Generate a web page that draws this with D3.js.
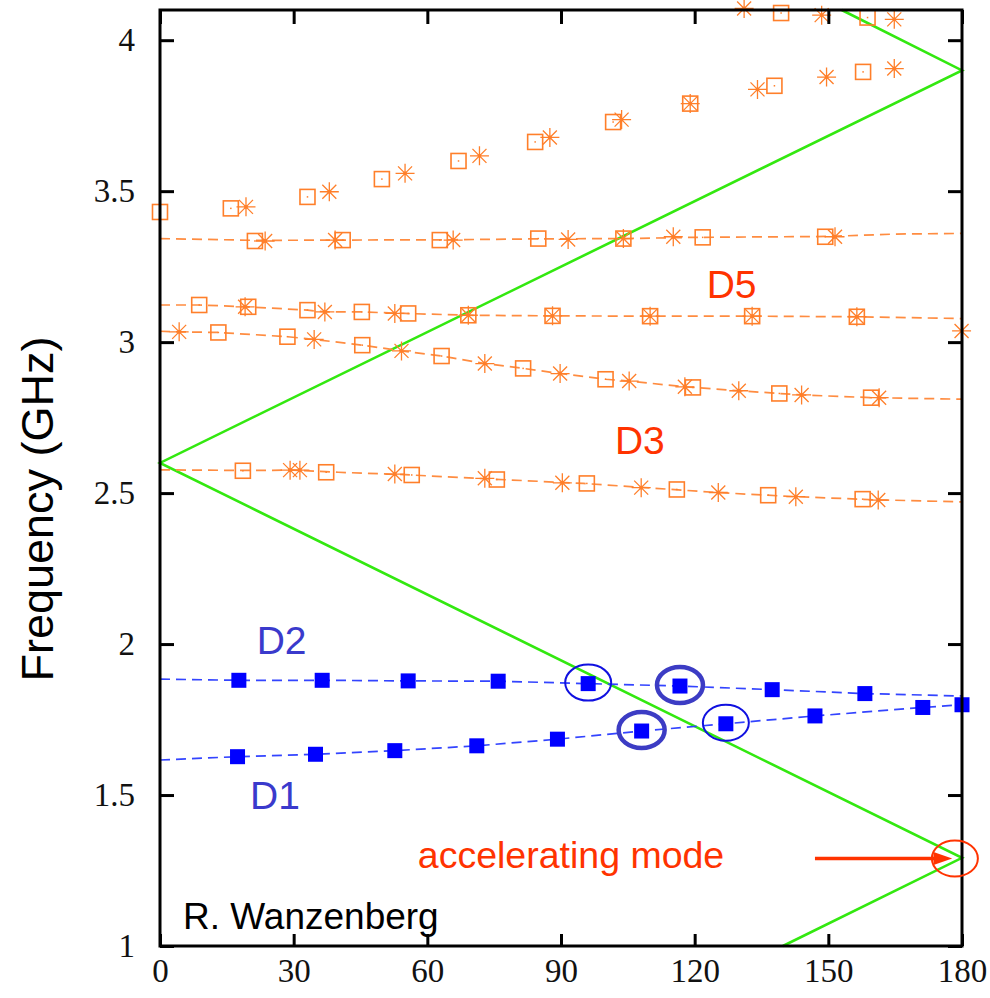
<!DOCTYPE html>
<html lang="en">
<head>
<meta charset="utf-8">
<script src="https://cdn.jsdelivr.net/npm/d3@7"></script>
<style>
  body { margin: 0; background: #fff; }
  .tick text { font-family: "Liberation Serif", "Times New Roman", serif; font-size: 33px; fill: #111; }
  .tick line { stroke: #000; stroke-width: 3; }
</style>
</head>
<body>
<svg id="chart" width="990" height="998"></svg>
<script>
// ---- data (phase advance in degrees, frequency in GHz) ----
var xTicks = [0, 30, 60, 90, 120, 150, 180];
var yTicks = [1, 1.5, 2, 2.5, 3, 3.5, 4];

// speed of light line (zig-zag)
var lightPhase = [139.8, 180, 0, 180, 153];
var lightFreq  = [1.0, 1.292, 2.6, 3.9, 4.1];

// D1 / D2 dipole passbands (filled squares)
var d1Phase = [17.4, 34.9, 52.7, 71.1, 89.2, 108.1, 127.0, 147.0, 171.2, 180];
var d1Freq  = [1.627, 1.635, 1.647, 1.663, 1.685, 1.712, 1.736, 1.762, 1.790, 1.799];
var d1Line  = [[0, 1.616]];
var d2Phase = [17.7, 36.4, 55.7, 75.9, 96.1, 116.7, 137.4, 158.2];
var d2Freq  = [1.880, 1.880, 1.878, 1.877, 1.869, 1.861, 1.849, 1.836];
var d2Line  = [[0, 1.884], [180, 1.828]];
// circled modes: [band, index, thick]
var circled = [["d2", 4, false], ["d2", 5, true], ["d1", 5, true], ["d1", 6, false]];

// higher bands: open squares and asterisks
var b1Squares = [[18.6, 2.574], [37.3, 2.569], [56.5, 2.560], [75.6, 2.545], [95.8, 2.532], [116.0, 2.512], [136.5, 2.493], [157.7, 2.480]];
var b1Stars   = [[29.2, 2.576], [31.4, 2.576], [52.7, 2.563], [72.9, 2.549], [90.3, 2.534], [108.0, 2.518], [125.3, 2.502], [142.7, 2.488], [161.2, 2.477]];
var b1Line    = [[0, 2.577], [18.6, 2.575], [30, 2.576], [40, 2.569], [55, 2.561], [75, 2.546], [95, 2.532], [110, 2.517], [125, 2.502], [140, 2.490], [160, 2.478], [180, 2.471]];

var b2Squares = [[13.1, 3.032], [28.6, 3.018], [45.4, 2.990], [63.2, 2.954], [81.5, 2.913], [100.0, 2.877], [119.6, 2.850], [139.0, 2.830], [159.6, 2.816]];
var b2Stars   = [[4.3, 3.034], [34.6, 3.009], [54.2, 2.971], [72.9, 2.929], [89.8, 2.896], [105.3, 2.871], [117.8, 2.852], [129.9, 2.839], [144.0, 2.825], [161.4, 2.816]];
var b2Line    = [[0, 3.036], [4.3, 3.034], [13.1, 3.032], [28.6, 3.018], [34.6, 3.009], [45.4, 2.990], [54.2, 2.971], [63.2, 2.954], [72.9, 2.929], [81.5, 2.913], [89.8, 2.896], [100, 2.877], [105.3, 2.871], [117.8, 2.852], [129.9, 2.839], [139, 2.830], [144, 2.825], [160, 2.816], [180, 2.811]];

var b3Squares = [[8.8, 3.123], [19.8, 3.117], [33.1, 3.106], [45.3, 3.100], [55.7, 3.095], [69.2, 3.089], [88.1, 3.087], [110.0, 3.086], [132.9, 3.086], [156.4, 3.084]];
var b3Stars   = [[19.1, 3.117], [37.0, 3.100], [52.7, 3.095], [69.2, 3.089], [88.1, 3.087], [110.0, 3.086], [132.9, 3.086], [156.4, 3.084], [179.9, 3.037]];
var b3Line    = [[0, 3.123], [8.8, 3.123], [19.5, 3.117], [33.1, 3.106], [37, 3.100], [45.3, 3.100], [55, 3.095], [69.2, 3.089], [88.1, 3.087], [110, 3.086], [132.9, 3.086], [156.4, 3.084], [180, 3.078]];

var b4Squares = [[21.3, 3.335], [41.0, 3.338], [62.8, 3.338], [84.9, 3.343], [104.0, 3.343], [121.8, 3.347], [149.3, 3.349]];
var b4Stars   = [[23.6, 3.335], [39.3, 3.338], [65.8, 3.338], [91.6, 3.340], [104.0, 3.343], [115.2, 3.349], [151.5, 3.349]];
var b4Line    = [[0, 3.343], [22, 3.337], [40, 3.338], [64, 3.339], [85, 3.342], [104, 3.343], [120, 3.347], [150, 3.350], [165, 3.358], [180, 3.360]];

var b5Squares = [[0, 3.431], [15.9, 3.443], [33.1, 3.481], [49.8, 3.540], [67.0, 3.600], [84.2, 3.663], [101.7, 3.729], [119.0, 3.790], [137.9, 3.849], [157.8, 3.895], [139.4, 4.090], [158.8, 4.075]];
var b5Stars   = [[19.3, 3.448], [38.0, 3.498], [55.0, 3.559], [71.7, 3.617], [87.5, 3.678], [103.6, 3.737], [119.0, 3.790], [134.1, 3.837], [149.6, 3.878], [164.8, 3.906], [131.1, 4.105], [148.5, 4.083], [164.8, 4.069]];

var bandLabels = [
  { text: "D5", phase: 128.3, freq: 3.145, color: "#ff3300" },
  { text: "D3", phase: 107.7, freq: 2.628, color: "#ff3300" },
  { text: "D2", phase: 27.3, freq: 1.968, color: "#3a3acc" },
  { text: "D1", phase: 25.8, freq: 1.453, color: "#3a3acc" }
];

// ---- chart ----
var svg = d3.select("#chart");
var x = d3.scaleLinear().domain([0, 180]).range([160, 962]);
var y = d3.scaleLinear().domain([1, 4.1]).range([946, 10]);

var orange = "#ff7f2a";
var green = "#33e810";
var blue = "#0000ff";

// light line
var lightPts = lightPhase.map(function (p, i) { return [p, lightFreq[i]]; });
var line = d3.line().x(function (d) { return x(d[0]); }).y(function (d) { return y(d[1]); });

svg.append("path").datum(lightPts)
  .attr("d", line).attr("fill", "none")
  .attr("stroke", green).attr("stroke-width", 2.6);

// dashed lines
[b1Line, b2Line, b3Line, b4Line].forEach(function (l) {
  svg.append("path").datum(l).attr("d", line)
    .attr("fill", "none").attr("stroke", "#ff8c40")
    .attr("stroke-width", 1.7).attr("stroke-dasharray", "10,6");
});

var d1Pts = d1Phase.map(function (p, i) { return [p, d1Freq[i]]; });
var d2Pts = d2Phase.map(function (p, i) { return [p, d2Freq[i]]; });
[d1Line.concat(d1Pts), [d2Line[0]].concat(d2Pts, [d2Line[1]])].forEach(function (l) {
  svg.append("path").datum(l).attr("d", line)
    .attr("fill", "none").attr("stroke", "#3344ff")
    .attr("stroke-width", 1.7).attr("stroke-dasharray", "10,6");
});

// open squares
var sq = 15;
var allSquares = b1Squares.concat(b2Squares, b3Squares, b4Squares, b5Squares);
var sqG = svg.append("g").selectAll("g").data(allSquares).enter().append("g")
  .attr("transform", function (d) { return "translate(" + x(d[0]) + "," + y(d[1]) + ")"; });
sqG.append("rect")
  .attr("x", -sq / 2).attr("y", -sq / 2).attr("width", sq).attr("height", sq)
  .attr("fill", "none").attr("stroke", orange).attr("stroke-width", 1.6);
sqG.append("rect")
  .attr("x", -0.75).attr("y", -0.75).attr("width", 1.5).attr("height", 1.5)
  .attr("fill", orange);

// asterisks
var allStars = b1Stars.concat(b2Stars, b3Stars, b4Stars, b5Stars);
var starG = svg.append("g").selectAll("g").data(allStars).enter().append("g")
  .attr("transform", function (d) { return "translate(" + x(d[0]) + "," + y(d[1]) + ")"; });
starG.append("path")
  .attr("d", "M-9.5,0H9.5M0,-9.5V9.5M-7,-7L7,7M-7,7L7,-7")
  .attr("stroke", orange).attr("stroke-width", 1.3).attr("fill", "none");
starG.append("circle").attr("r", 1.8).attr("fill", orange);

// filled blue squares
var bs = 15;
svg.append("g").selectAll("rect").data(d1Pts.concat(d2Pts)).enter().append("rect")
  .attr("x", function (d) { return x(d[0]) - bs / 2; })
  .attr("y", function (d) { return y(d[1]) - bs / 2; })
  .attr("width", bs).attr("height", bs)
  .attr("fill", blue);

// circled modes
svg.append("g").selectAll("ellipse").data(circled).enter().append("ellipse")
  .attr("cx", function (d) { return x(d[0] === "d1" ? d1Phase[d[1]] : d2Phase[d[1]]); })
  .attr("cy", function (d) { return y(d[0] === "d1" ? d1Freq[d[1]] : d2Freq[d[1]]) - 1; })
  .attr("rx", 23).attr("ry", 18)
  .attr("fill", "none")
  .attr("stroke", function (d) { return d[2] ? "#3c3cc4" : "#1010e0"; })
  .attr("stroke-width", function (d) { return d[2] ? 4.5 : 2; });

// axes (ticks pointing inward)
svg.append("g").attr("transform", "translate(160,0)")
  .call(d3.axisLeft(y).tickValues(yTicks).tickSize(-14).tickPadding(25).tickFormat(function (d) { return d; }));
svg.append("g").attr("transform", "translate(962,0)")
  .call(d3.axisRight(y).tickValues(yTicks).tickSize(-14).tickFormat(""));
svg.append("g").attr("transform", "translate(0,946)")
  .call(d3.axisBottom(x).tickValues(xTicks).tickSize(-12).tickPadding(13).tickFormat(function (d) { return d; }));
svg.append("g").attr("transform", "translate(0,10)")
  .call(d3.axisTop(x).tickValues(xTicks).tickSize(-14).tickFormat(""));
svg.selectAll(".domain").remove();

// frame
svg.append("rect")
  .attr("x", 160).attr("y", 10).attr("width", 802).attr("height", 936)
  .attr("fill", "none").attr("stroke", "#000").attr("stroke-width", 3);

// band labels
svg.append("g").selectAll("text").data(bandLabels).enter().append("text")
  .attr("x", function (d) { return x(d.phase); })
  .attr("y", function (d) { return y(d.freq); })
  .attr("text-anchor", "middle")
  .style("font-family", "'Liberation Sans', Arial, sans-serif")
  .style("font-size", "39px")
  .style("fill", function (d) { return d.color; })
  .text(function (d) { return d.text; });

// accelerating mode annotation
var red = "#ff3300";
svg.append("text")
  .attr("x", 571).attr("y", 868)
  .attr("text-anchor", "middle")
  .style("font-family", "'Liberation Sans', Arial, sans-serif")
  .style("font-size", "37.5px").style("fill", red)
  .text("accelerating mode");
svg.append("line")
  .attr("x1", x(147)).attr("x2", x(174.5))
  .attr("y1", y(1.29)).attr("y2", y(1.29))
  .attr("stroke", red).attr("stroke-width", 3.5);
svg.append("path")
  .attr("d", "M" + x(173.6) + "," + (y(1.29) - 6.5) + "L" + x(177.8) + "," + y(1.29) + "L" + x(173.6) + "," + (y(1.29) + 6.5) + "Z")
  .attr("fill", red);
svg.append("ellipse")
  .attr("cx", x(178.4)).attr("cy", y(1.29))
  .attr("rx", 23).attr("ry", 18)
  .attr("fill", "none").attr("stroke", red).attr("stroke-width", 2);

// author
svg.append("text")
  .attr("x", 183).attr("y", 929)
  .style("font-family", "'Liberation Sans', Arial, sans-serif")
  .style("font-size", "37px").style("fill", "#000")
  .text("R. Wanzenberg");

// y axis title
svg.append("text")
  .attr("transform", "translate(53,509) rotate(-90)")
  .attr("text-anchor", "middle")
  .style("font-family", "'Liberation Sans', Arial, sans-serif")
  .style("font-size", "45px").style("fill", "#000")
  .text("Frequency (GHz)");
</script>
</body>
</html>
